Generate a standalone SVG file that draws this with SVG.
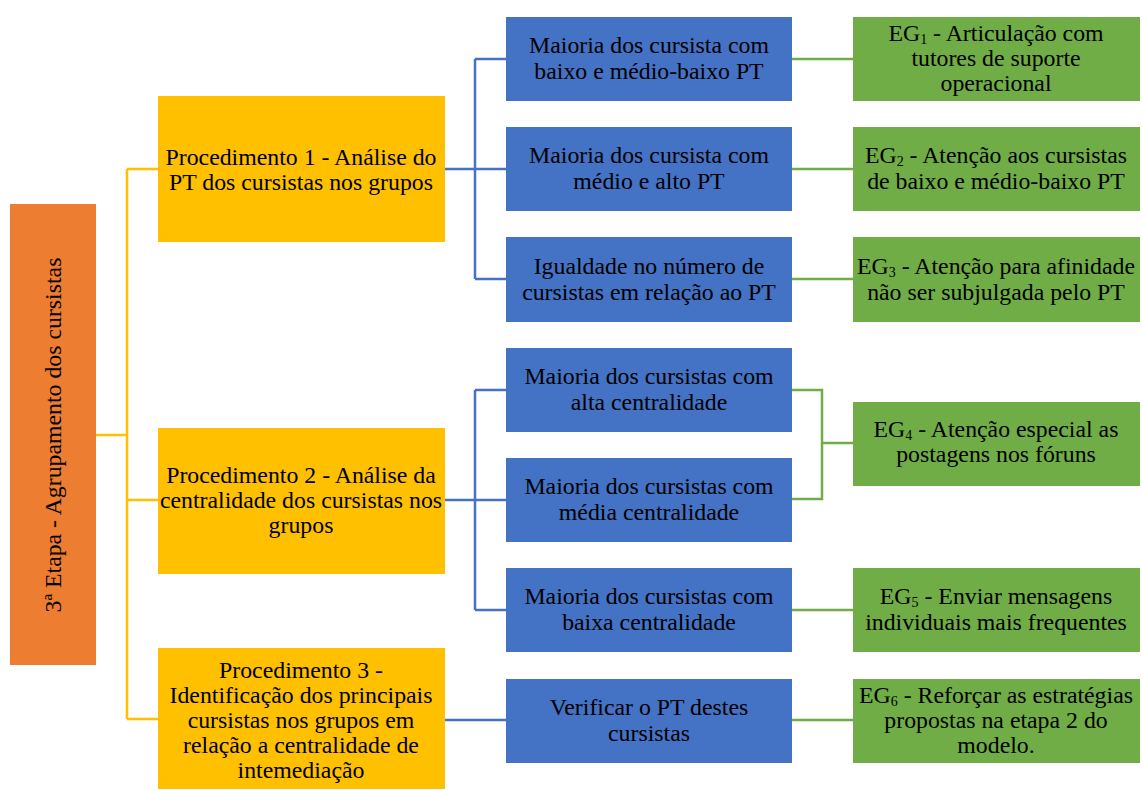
<svg xmlns="http://www.w3.org/2000/svg" width="1142" height="790" viewBox="0 0 1142 790">
  <style>
    .orange { fill: #ED7D31; }
    .yellow { fill: #FFC000; }
    .blue { fill: #4472C4; }
    .green { fill: #70AD47; }
    .t { font-family: 'Liberation Serif', 'Times New Roman', Times, serif; font-size: 23.8px; fill: #000; text-anchor: middle; }
    .sub { font-size: 14px; }
    .ly { stroke: #FFC000; stroke-width: 2.5; fill: none; }
    .lb { stroke: #4472C4; stroke-width: 2.5; fill: none; }
    .lg { stroke: #70AD47; stroke-width: 2.5; fill: none; }
  </style>
  <rect width="1142" height="790" fill="#fff"/>

  <g id="connectors">
    <!-- stage to procedures -->
    <path class="ly" d="M96 435 H127 M127 169 V719 M127 169 H158 M127 500 H158 M127 719 H158"/>
    <!-- procedure 1 branches -->
    <path class="lb" d="M445 169 H506 M475 59 V279 M475 59 H506 M475 279 H506"/>
    <!-- procedure 2 branches -->
    <path class="lb" d="M445 500 H506 M475 390 V610 M475 390 H506 M475 610 H506"/>
    <!-- procedure 3 branch -->
    <path class="lb" d="M445 720 H506"/>
    <!-- outcomes -->
    <path class="lg" d="M792 59 H853 M792 169 H853 M792 279 H853 M792 610 H853 M792 720 H853"/>
    <path class="lg" d="M792 390 H822 V499 H792 M822 443 H853"/>
  </g>

  <g class="t" font-family="'Liberation Serif', 'Times New Roman', serif">
  <g id="stage">
    <rect class="orange" x="10" y="204" width="86" height="461"/>
    <text transform="translate(61 435) rotate(-90)">3ª Etapa - Agrupamento dos cursistas</text>
  </g>

  <g id="proc1">
    <rect class="yellow" x="158" y="96" width="287" height="146"/>
    <text x="301" y="165">Procedimento 1 - Análise do</text>
    <text x="301" y="190">PT dos cursistas nos grupos</text>
  </g>
  <g id="proc2">
    <rect class="yellow" x="158" y="428" width="287" height="146"/>
    <text x="301" y="483">Procedimento 2 - Análise da</text>
    <text x="301" y="508">centralidade dos cursistas nos</text>
    <text x="301" y="533">grupos</text>
  </g>
  <g id="proc3">
    <rect class="yellow" x="158" y="648" width="287" height="141"/>
    <text x="301" y="678">Procedimento 3 -</text>
    <text x="301" y="703">Identificação dos principais</text>
    <text x="301" y="728">cursistas nos grupos em</text>
    <text x="301" y="753">relação a centralidade de</text>
    <text x="301" y="778">intemediação</text>
  </g>

  <g id="b1">
    <rect class="blue" x="506" y="17" width="286" height="84"/>
    <text x="649" y="53">Maioria dos cursista com</text>
    <text x="649" y="79">baixo e médio-baixo PT</text>
  </g>
  <g id="b2">
    <rect class="blue" x="506" y="127" width="286" height="84"/>
    <text x="649" y="163">Maioria dos cursista com</text>
    <text x="649" y="189">médio e alto PT</text>
  </g>
  <g id="b3">
    <rect class="blue" x="506" y="237" width="286" height="85"/>
    <text x="649" y="274">Igualdade no número de</text>
    <text x="649" y="300">cursistas em relação ao PT</text>
  </g>
  <g id="b4">
    <rect class="blue" x="506" y="348" width="286" height="84"/>
    <text x="649" y="384">Maioria dos cursistas com</text>
    <text x="649" y="410">alta centralidade</text>
  </g>
  <g id="b5">
    <rect class="blue" x="506" y="458" width="286" height="84"/>
    <text x="649" y="494">Maioria dos cursistas com</text>
    <text x="649" y="520">média centralidade</text>
  </g>
  <g id="b6">
    <rect class="blue" x="506" y="568" width="286" height="84"/>
    <text x="649" y="604">Maioria dos cursistas com</text>
    <text x="649" y="630">baixa centralidade</text>
  </g>
  <g id="b7">
    <rect class="blue" x="506" y="679" width="286" height="84"/>
    <text x="649" y="715">Verificar o PT destes</text>
    <text x="649" y="741">cursistas</text>
  </g>

  <g id="eg1">
    <rect class="green" x="853" y="17" width="287" height="84"/>
    <text x="996" y="41">EG<tspan class="sub" dy="3">1</tspan><tspan dy="-3"> - Articulação com</tspan></text>
    <text x="996" y="66">tutores de suporte</text>
    <text x="996" y="91">operacional</text>
  </g>
  <g id="eg2">
    <rect class="green" x="853" y="127" width="287" height="84"/>
    <text x="996" y="163">EG<tspan class="sub" dy="3">2</tspan><tspan dy="-3"> - Atenção aos cursistas</tspan></text>
    <text x="996" y="189">de baixo e médio-baixo PT</text>
  </g>
  <g id="eg3">
    <rect class="green" x="853" y="237" width="287" height="85"/>
    <text x="996" y="274">EG<tspan class="sub" dy="3">3</tspan><tspan dy="-3"> - Atenção para afinidade</tspan></text>
    <text x="996" y="300">não ser subjulgada pelo PT</text>
  </g>
  <g id="eg4">
    <rect class="green" x="853" y="402" width="287" height="84"/>
    <text x="996" y="437">EG<tspan class="sub" dy="3">4</tspan><tspan dy="-3"> - Atenção especial as</tspan></text>
    <text x="996" y="462">postagens nos fóruns</text>
  </g>
  <g id="eg5">
    <rect class="green" x="853" y="568" width="287" height="84"/>
    <text x="996" y="604">EG<tspan class="sub" dy="3">5</tspan><tspan dy="-3"> - Enviar mensagens</tspan></text>
    <text x="996" y="630">individuais mais frequentes</text>
  </g>
  <g id="eg6">
    <rect class="green" x="853" y="679" width="287" height="84"/>
    <text x="996" y="703">EG<tspan class="sub" dy="3">6</tspan><tspan dy="-3"> - Reforçar as estratégias</tspan></text>
    <text x="996" y="728">propostas na etapa 2 do</text>
    <text x="996" y="753">modelo.</text>
  </g>
  </g>
</svg>
